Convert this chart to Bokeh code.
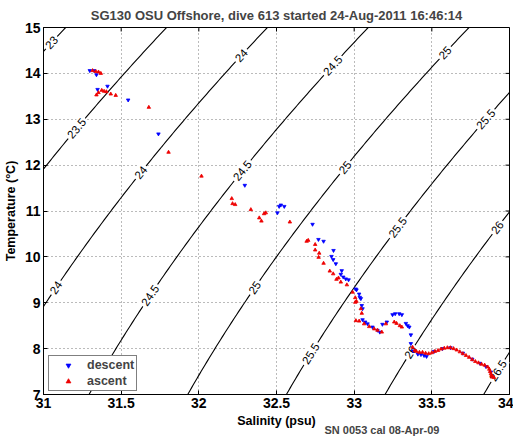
import numpy as np
from bokeh.plotting import figure
from bokeh.models import FixedTicker, Legend, LegendItem, Title
from bokeh.embed import file_html
from bokeh.resources import INLINE

title_text = "SG130 OSU Offshore, dive 613 started 24-Aug-2011 16:46:14"
x_label = "Salinity (psu)"
y_label = "Temperature (°C)"
footnote = "SN 0053 cal 08-Apr-09"

x_ticks = [31, 31.5, 32, 32.5, 33, 33.5, 34]
x_tick_labels = ["31", "31.5", "32", "32.5", "33", "33.5", "34"]
y_ticks = [7, 8, 9, 10, 11, 12, 13, 14, 15]
y_tick_labels = ["7", "8", "9", "10", "11", "12", "13", "14", "15"]

sigma_levels = [23, 23.5, 24, 24.5, 25, 25.5, 26, 26.5]
sigma_level_labels = ["23", "23.5", "24", "24.5", "25", "25.5", "26", "26.5"]
sigma_label_temps = [[14.67], [12.8], [14.39, 11.84, 9.33], [14.17, 11.88, 9.16],
                     [14.45, 11.95, 9.33], [13.0, 10.64, 7.89], [10.64, 7.92], [7.52]]

desc_salinity = [31.298, 31.326, 31.341, 31.348, 31.412, 31.545, 31.74, 32.296, 32.528, 32.517,
                 32.55, 32.506, 32.732, 32.77, 32.803, 32.867, 32.854, 32.865, 32.882, 32.92,
                 32.914, 32.93, 32.946, 32.964, 33.01, 33.015, 33.032, 33.036, 33.043, 33.049,
                 33.054, 33.054, 33.071, 33.086, 33.118, 33.15, 33.165, 33.182, 33.21, 33.247,
                 33.264, 33.29, 33.307, 33.333, 33.344, 33.355, 33.365, 33.365, 33.38, 33.41,
                 33.43, 33.45, 33.466, 33.515, 33.569, 33.62, 33.70, 33.76, 33.81, 33.848, 33.88]
desc_temperature = [14.06, 14.06, 13.97, 13.65, 13.72, 13.42, 12.68, 11.56, 11.13, 11.10,
                    11.10, 10.96, 10.71, 10.38, 10.34, 10.14, 10.01, 9.94, 9.85, 9.70,
                    9.62, 9.56, 9.52, 9.50, 9.30, 9.28, 9.19, 9.12, 9.09, 8.94,
                    8.87, 8.63, 8.58, 8.54, 8.47, 8.40, 8.36, 8.53, 8.58, 8.74,
                    8.76, 8.76, 8.74, 8.55, 8.50, 8.47, 8.30, 8.11, 7.95, 7.88,
                    7.87, 7.85, 7.83, 7.94, 8.00, 8.02, 7.90, 7.77, 7.68, 7.61, 7.49]

asc_salinity = [31.316, 31.337, 31.354, 31.369, 31.341, 31.354, 31.375, 31.39, 31.405, 31.433,
                31.465, 31.678, 31.805, 32.017, 32.212, 32.217, 32.234, 32.335, 32.42, 32.431,
                32.389, 32.403, 32.586, 32.694, 32.704, 32.749, 32.749, 32.775, 32.771, 32.803,
                32.843, 32.865, 32.886, 32.899, 32.914, 32.953, 32.99, 33.007, 33.007, 33.015,
                33.043, 33.049, 33.011, 33.032, 33.064, 33.097, 33.129, 33.15, 33.178, 33.204,
                33.258, 33.273, 33.294, 33.307, 33.376, 33.39, 33.40, 33.42, 33.44, 33.46,
                33.48, 33.50, 33.52, 33.54, 33.56, 33.58, 33.60, 33.62, 33.64, 33.66,
                33.68, 33.70, 33.72, 33.74, 33.76, 33.78, 33.80, 33.82, 33.84, 33.86,
                33.87, 33.875, 33.88, 33.885, 33.89, 33.90]
asc_temperature = [14.06, 14.04, 14.03, 14.00, 13.53, 13.58, 13.63, 13.61, 13.60, 13.55,
                   13.52, 13.26, 12.28, 11.76, 11.27, 11.16, 11.14, 11.03, 10.94, 10.96,
                   10.85, 10.78, 10.76, 10.34, 10.36, 10.27, 10.15, 10.08, 9.99, 9.86,
                   9.69, 9.63, 9.51, 9.54, 9.45, 9.39, 9.23, 9.11, 9.01, 9.03,
                   8.87, 8.77, 8.61, 8.60, 8.54, 8.48, 8.43, 8.40, 8.36, 8.54,
                   8.58, 8.55, 8.50, 8.47, 8.03, 7.96, 7.94, 7.92, 7.92, 7.90,
                   7.89, 7.91, 7.94, 7.96, 7.99, 8.01, 8.02, 8.02, 8.00, 7.97,
                   7.93, 7.89, 7.85, 7.81, 7.76, 7.72, 7.69, 7.66, 7.64, 7.60,
                   7.55, 7.50, 7.45, 7.41, 7.38, 7.37]

FONT = "Liberation Sans"
FRAME_W, FRAME_H = 466, 367
X0, X1, Y0, Y1 = 31, 34, 7, 15
TICK_PX = 4


def dens0(S, T):
    T68 = T * 1.00024
    rw = (999.842594 + 6.793952e-2 * T68 - 9.095290e-3 * T68**2 + 1.001685e-4 * T68**3
          - 1.120083e-6 * T68**4 + 6.536332e-9 * T68**5)
    a = 0.824493 - 4.0899e-3 * T68 + 7.6438e-5 * T68**2 - 8.2467e-7 * T68**3 + 5.3875e-9 * T68**4
    b = -5.72466e-3 + 1.0227e-4 * T68 - 1.6546e-6 * T68**2
    c = 4.8314e-4
    return rw + a * S + b * S**1.5 + c * S**2


def salinity_on_sigma(sig, T):
    T = np.asarray(T, dtype=float)
    lo = np.full_like(T, 20.0)
    hi = np.full_like(T, 45.0)
    for _ in range(60):
        mid = 0.5 * (lo + hi)
        too_dense = dens0(mid, T) - 1000.0 > sig
        hi = np.where(too_dense, mid, hi)
        lo = np.where(too_dense, lo, mid)
    return 0.5 * (lo + hi)


p = figure(frame_width=FRAME_W, frame_height=FRAME_H, x_range=(X0, X1), y_range=(Y0, Y1),
           output_backend="svg", toolbar_location=None,
           min_border_left=0, min_border_right=4, min_border_top=0, min_border_bottom=47)
p.background_fill_color = "white"
p.border_fill_color = "white"
p.outline_line_color = "black"
p.outline_line_width = 1

p.title.text = title_text
p.title.align = "center"
p.title.text_font = FONT
p.title.text_font_size = "13px"
p.title.text_font_style = "bold"
p.title.standoff = 10

# contours
T_grid = np.linspace(6.0, 16.0, 201)
lab_x, lab_y, lab_t, lab_a = [], [], [], []
for sig, name, temps in zip(sigma_levels, sigma_level_labels, sigma_label_temps):
    S_line = salinity_on_sigma(sig, T_grid)
    p.line(S_line, T_grid, line_color="black", line_width=1.1)
    for t in temps:
        s = float(salinity_on_sigma(sig, [t])[0])
        s1 = float(salinity_on_sigma(sig, [t - 0.05])[0])
        s2 = float(salinity_on_sigma(sig, [t + 0.05])[0])
        dx = (s2 - s1) * FRAME_W / (X1 - X0)
        dy = 0.1 * FRAME_H / (Y1 - Y0)
        lab_x.append(s)
        lab_y.append(t)
        lab_t.append(name)
        lab_a.append(float(np.arctan2(dy, dx)))

p.text(x=lab_x, y=lab_y, text=lab_t, angle=lab_a, text_align="center", text_baseline="middle",
       text_font_size="11.5px", text_color="black", text_font={"value": FONT},
       background_fill_color="white", padding=2)

r_desc = p.scatter(desc_salinity, desc_temperature, marker="inverted_triangle", size=3.5,
                   fill_color="#0000ff", line_color="#0000ff", line_width=0.8)
r_asc = p.scatter(asc_salinity, asc_temperature, marker="triangle", size=3.5,
                  fill_color="#ee0000", line_color="#ee0000", line_width=0.8)

# axes
for ax in (p.xaxis[0], p.yaxis[0]):
    ax.major_tick_in = TICK_PX
    ax.major_tick_out = 0
    ax.minor_tick_line_color = None
    ax.axis_line_color = "black"
    ax.major_label_text_font = FONT
    ax.major_label_text_font_size = "14px"
    ax.major_label_text_font_style = "bold"
    ax.major_label_text_color = "black"
    ax.axis_label_text_font = FONT
    ax.axis_label_text_font_size = "12.5px"
    ax.axis_label_text_font_style = "bold"
    ax.axis_label_text_color = "black"
p.xaxis[0].ticker = FixedTicker(ticks=x_ticks)
p.xaxis[0].major_label_overrides = {t: l for t, l in zip(x_ticks, x_tick_labels)}
p.yaxis[0].ticker = FixedTicker(ticks=y_ticks)
p.yaxis[0].major_label_overrides = {t: l for t, l in zip(y_ticks, y_tick_labels)}
p.xaxis[0].axis_label = x_label
p.yaxis[0].axis_label = y_label
p.xaxis[0].major_label_standoff = 3
p.xaxis[0].axis_label_standoff = 3
p.yaxis[0].major_label_standoff = 3
p.yaxis[0].axis_label_standoff = 4

# inward ticks on the top and right edges of the box (MATLAB style)
tick_dx = TICK_PX * (X1 - X0) / FRAME_W
tick_dy = TICK_PX * (Y1 - Y0) / FRAME_H
p.segment(x0=x_ticks, y0=[Y1] * len(x_ticks), x1=x_ticks, y1=[Y1 - tick_dy] * len(x_ticks),
          line_color="black", line_width=1)
p.segment(x0=[X1] * len(y_ticks), y0=y_ticks, x1=[X1 - tick_dx] * len(y_ticks), y1=y_ticks,
          line_color="black", line_width=1)

p.xgrid.ticker = FixedTicker(ticks=x_ticks)
p.ygrid.ticker = FixedTicker(ticks=y_ticks)
for g in (p.xgrid[0], p.ygrid[0]):
    g.grid_line_color = "#777777"
    g.grid_line_dash = "1 3"
    g.grid_line_width = 1

legend = Legend(items=[LegendItem(label="descent", renderers=[r_desc]),
                       LegendItem(label="ascent", renderers=[r_asc])],
                location=(5, 3), orientation="vertical")
legend.border_line_color = "black"
legend.border_line_width = 1
legend.background_fill_color = "white"
legend.background_fill_alpha = 1
legend.label_text_font = FONT
legend.label_text_font_size = "12.5px"
legend.label_text_font_style = "bold"
legend.padding = 2
legend.spacing = 2
legend.margin = 0
legend.glyph_width = 34
legend.glyph_height = 12
legend.label_height = 12
legend.label_standoff = 2
p.add_layout(legend, "center")

fn = Title(text=footnote, align="left", offset=281, text_font=FONT, text_font_size="11px",
           text_font_style="bold", standoff=-14, vertical_align="top")
p.add_layout(fn, "below")

open("out.html", "w").write(file_html(p, INLINE))
